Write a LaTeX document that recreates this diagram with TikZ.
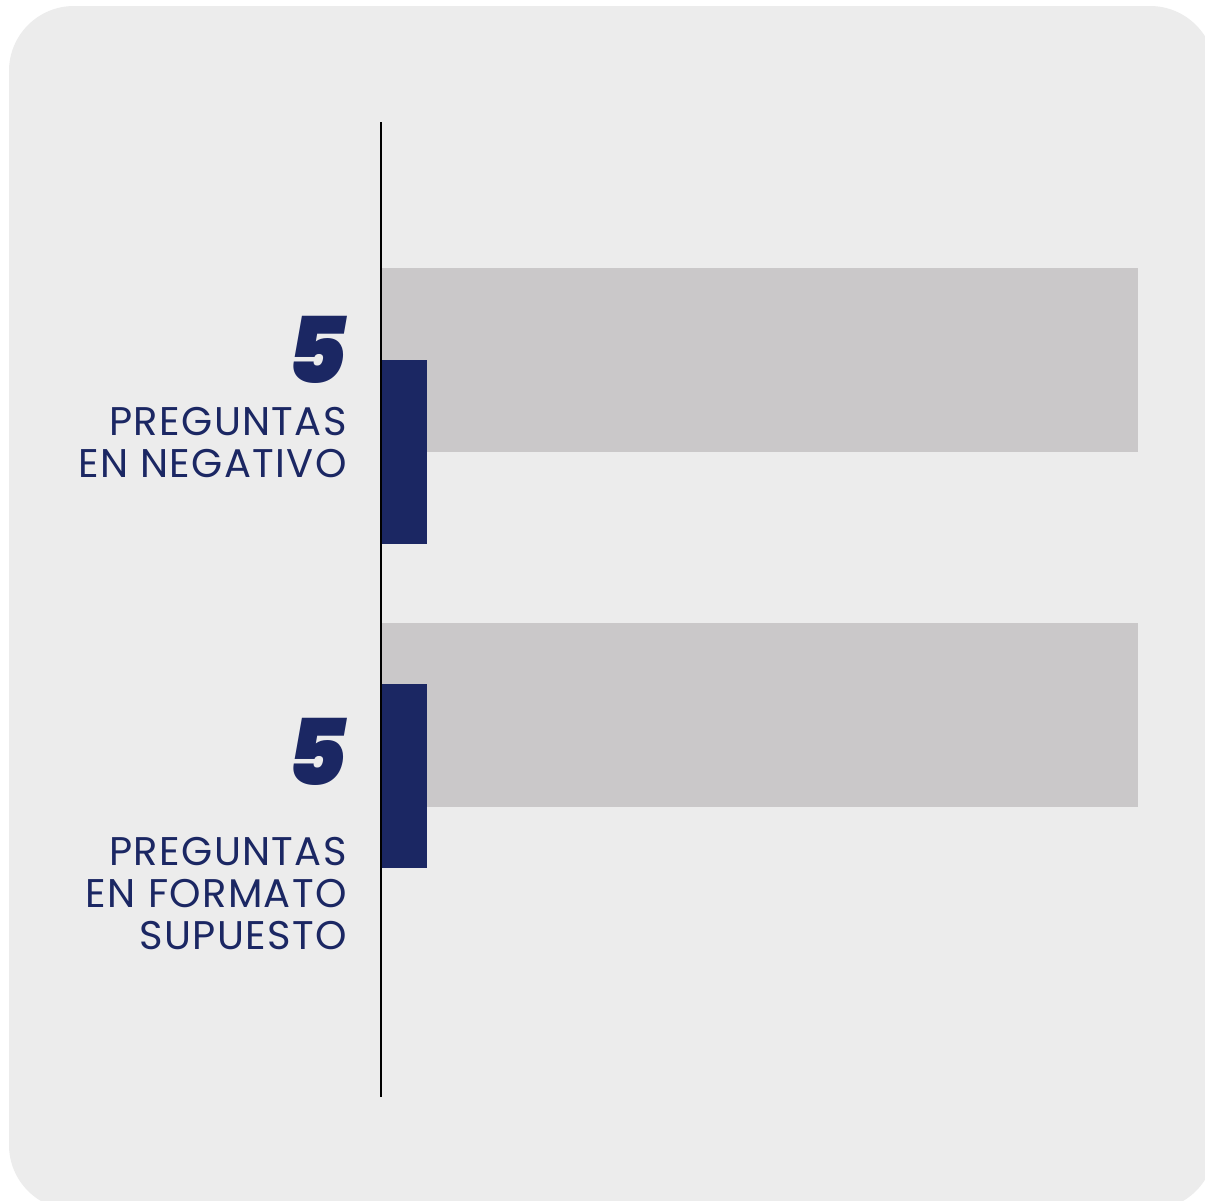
\documentclass[tikz,border=0pt]{standalone}
\usepackage{fontspec}
\setmainfont{Poppins}
\newfontfamily\lblfont[LetterSpace=3.5]{Poppins}
\newfontfamily\numfont{Poppins Black Italic}
\definecolor{bgc}{HTML}{ECECEC}
\definecolor{barg}{HTML}{CAC8C9}
\definecolor{navy}{HTML}{1B2763}
\begin{document}
\begin{tikzpicture}[x=1pt,y=-1pt,
  lbl/.style={anchor=base east,inner sep=0pt,text=navy,font=\lblfont\fontsize{40}{42}\selectfont},
  num/.style={anchor=base east,inner sep=0pt,text=navy,font=\numfont\fontsize{92}{92}\selectfont},
  gbar/.style={fill=barg,draw=none},
  nbar/.style={fill=navy,draw=none}]
\useasboundingbox (0,0) rectangle (1205,1200);
\fill[white] (0,0) rectangle (1205,1200);
\fill[bgc,rounded corners=65pt] (9,6) rectangle (1215,1210);
% bars
\path[gbar] (381,268) rectangle (1138,452);
\path[nbar] (381,360) rectangle (427,544);
\path[gbar] (381,623) rectangle (1138,807);
\path[nbar] (381,684) rectangle (427,868);
% axis
\coordinate (axtop) at (381,122);
\coordinate (axbot) at (381,1097);
\draw[black,line width=1.4pt] (axtop) -- (axbot);
% labels
\node[num] (n1) at (347,383) {5};
\node[lbl] (l1a) at (347,435) {PREGUNTAS};
\node[lbl] (l1b) at (347,477) {EN NEGATIVO};
\node[num] (n2) at (347,785) {5};
\node[lbl] (l2a) at (347,865) {PREGUNTAS};
\node[lbl] (l2b) at (347,907) {EN FORMATO};
\node[lbl] (l2c) at (347,949) {SUPUESTO};
\end{tikzpicture}
\end{document}
